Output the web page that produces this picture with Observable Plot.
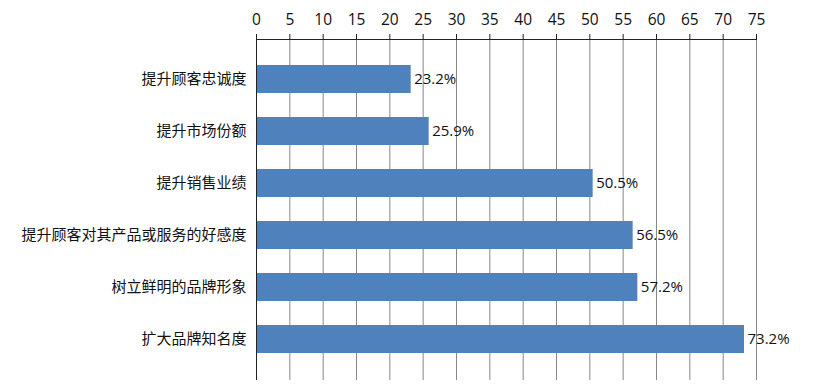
<!DOCTYPE html>
<html><head><meta charset="utf-8">
<script src="https://cdn.jsdelivr.net/npm/d3@7"></script>
<script src="https://cdn.jsdelivr.net/npm/@observablehq/plot@0.6"></script>
<style>
html,body{margin:0;padding:0;background:#fff;}
</style>
</head><body>
<div id="chart"></div>
<script>
const categories = ["提升顾客忠诚度","提升市场份额","提升销售业绩","提升顾客对其产品或服务的好感度","树立鲜明的品牌形象","扩大品牌知名度"];
const values = [23.2, 25.9, 50.5, 56.5, 57.2, 73.2];
const xTicks = [0,5,10,15,20,25,30,35,40,45,50,55,60,65,70,75];

const data = categories.map((c,i)=>({cat:c, v:values[i]}));
const font = "'Open Sans','Noto Sans CJK SC',sans-serif";

const chart = Plot.plot({
  width: 826,
  height: 389,
  marginTop: 39,
  marginBottom: 9,
  marginLeft: 256,
  marginRight: 70,
  style: {fontFamily: font, fontSize: "15px", color: "#111", background: "#fff"},
  x: {domain: [0, 75], ticks: xTicks, label: null},
  y: {domain: categories, padding: 0.455, label: null},
  marks: [
    Plot.ruleX(xTicks.slice(1), {stroke: "#888", strokeWidth: 1}),
    Plot.barX(data, {x: "v", y: "cat", fill: "#4f81bd"}),
    Plot.text(data, {x: "v", y: "cat", text: d => d.v.toFixed(1) + "%", textAnchor: "start", dx: 3, fontSize: 15, fill: "#111"}),
    Plot.axisX({anchor: "top", ticks: xTicks, tickSize: 6, tickPadding: 9, fontSize: 15.5, label: null, stroke: "#222", fill: "#111"}),
    Plot.axisY({anchor: "left", tickSize: 0, tickPadding: 10, fontSize: 15, fontFamily: "'Noto Sans CJK SC',sans-serif", label: null, fill: "#111"}),
    Plot.ruleX([0], {stroke: "#222", strokeWidth: 1}),
    Plot.frame({anchor: "top", stroke: "#222"})
  ]
});
document.getElementById("chart").appendChild(chart);
</script>
</body></html>
